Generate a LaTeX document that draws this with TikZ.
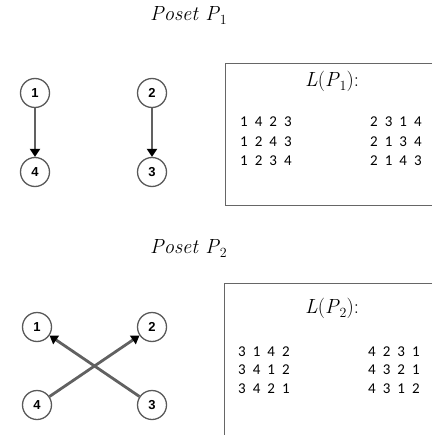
\documentclass[tikz,border=0pt]{standalone}
\usepackage{fontspec}
\usetikzlibrary{arrows.meta}
\newfontfamily\digitfont{Carlito}
\newfontfamily\labelfont{Liberation Sans}
\newfontfamily\mathlikefont{Latin Modern Roman}
\newcommand\seqq[4]{#1\hspace{7pt}#2\hspace{7pt}#3\hspace{7pt}#4}
\newcommand\mysub[1]{\raisebox{-4pt}{\fontsize{14}{15}\selectfont\upshape #1}}
\begin{document}
\begin{tikzpicture}[x=1pt,y=-1pt,
  vert/.style={circle,draw=black!65,line width=1.3pt,fill=white,minimum size=29pt,inner sep=0pt,font=\labelfont\fontsize{13}{14}\selectfont\bfseries},
  edge/.style={draw=black!62,line width=2.8pt,-{Triangle[length=8pt,width=10pt,color=black]}},
  box/.style={draw=black!60,line width=0.9pt},
  seqtext/.style={anchor=base west,inner sep=0pt,font=\digitfont\fontsize{15}{18}\selectfont},
  mtext/.style={anchor=base west,inner sep=0pt,font=\mathlikefont\fontsize{20.5}{24}\selectfont}]
\useasboundingbox (0,0) rectangle (432,435);
% titles
\node[mtext] (t1) at (150,21) {\textit{Poset\ P}\mysub{1}};
\node[mtext] (t2) at (150,253) {\textit{Poset\ P}\mysub{2}};
% poset 1
\node[vert] (a1) at (35,93) {1};
\node[vert] (a4) at (35,172) {4};
\node[vert] (a2) at (152,93) {2};
\node[vert] (a3) at (152,172) {3};
\draw[edge] (a1) -- (a4);
\draw[edge] (a2) -- (a3);
% poset 2
\node[vert] (b1) at (37,327) {1};
\node[vert] (b2) at (152,327) {2};
\node[vert] (b4) at (37,405) {4};
\node[vert] (b3) at (152,405) {3};
\draw[edge] (b3) -- (b1);
\draw[edge] (b4) -- (b2);
% box 1
\draw[box] (432,63) -- (225,63) -- (225,205) -- (432,205);
\node[mtext] (l1) at (305,87) {\textit{L}(\textit{P}\mysub{1}):};
\node[seqtext] (s11) at (240,126.7) {\seqq1423};
\node[seqtext] (s12) at (240,147) {\seqq1243};
\node[seqtext] (s13) at (240,166) {\seqq1234};
\node[seqtext] (s14) at (370,126.7) {\seqq2314};
\node[seqtext] (s15) at (370,147) {\seqq2134};
\node[seqtext] (s16) at (370,166) {\seqq2143};
% box 2
\draw[box] (432,283) -- (224,283) -- (224,435);
\node[mtext] (l2) at (305,313) {\textit{L}(\textit{P}\mysub{2}):};
\node[seqtext] (s21) at (238,356) {\seqq3142};
\node[seqtext] (s22) at (238,374) {\seqq3412};
\node[seqtext] (s23) at (238,393) {\seqq3421};
\node[seqtext] (s24) at (368,356) {\seqq4231};
\node[seqtext] (s25) at (368,374) {\seqq4321};
\node[seqtext] (s26) at (368,393) {\seqq4312};
\end{tikzpicture}
\end{document}
